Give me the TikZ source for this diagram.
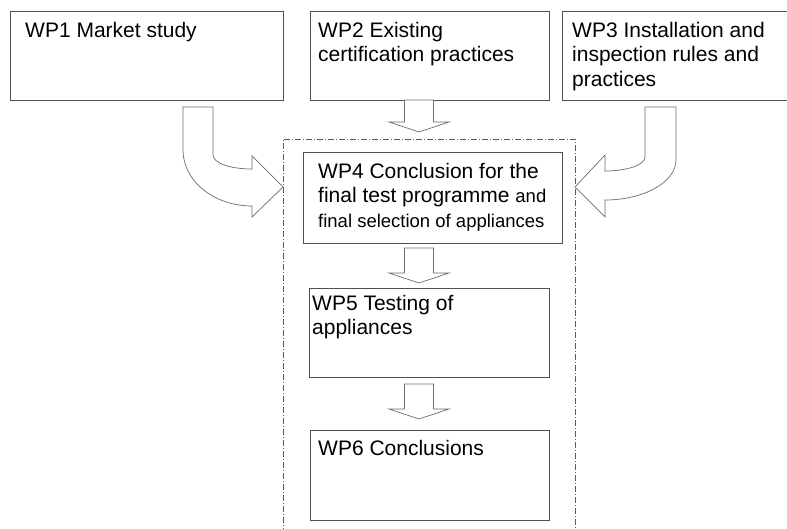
\documentclass[tikz,border=0pt]{standalone}
\usepackage{fontspec}
\setmainfont{Liberation Sans}
\usetikzlibrary{positioning}

\definecolor{boxgray}{HTML}{505050}
\definecolor{arrowgray}{HTML}{6E6E6E}
\definecolor{framegray}{HTML}{5A5A5A}
\newcommand\wpsmall{\fontsize{18.5}{24.5}\selectfont}

\tikzset{
  wpbox/.style={draw=boxgray, line width=1pt, anchor=north west, inner sep=0pt},
  wptext/.style={align=left, inner sep=0pt, font=\fontsize{21}{24.5}\selectfont},
  arrowline/.style={draw=arrowgray, line width=0.7pt, fill=white},
  frameline/.style={draw=framegray, line width=0.8pt, dash pattern=on 6pt off 2pt on 1pt off 2pt},
  pics/downblock/.style={code={
    \draw[arrowline] (-14.5,0) -- (-14.5,#1) -- (-30,#1) -- (0,#1+10) -- (30,#1) -- (14.5,#1) -- (14.5,0) -- cycle;
  }}
}

\begin{document}
\begin{tikzpicture}[x=1pt, y=-1pt]
    \clip (0,0) rectangle (787,529);
    \fill[white] (0,0) rectangle (787,529);

    % Frame round WP4 to WP6
    \draw[frameline] (283,545) -- (283,139) -- (575,139) -- (575,545);

    % Top row
    \node[wpbox, minimum width=273pt, minimum height=89pt] (wp1) at (10,11) {};
    \node[wpbox, minimum width=239pt, minimum height=89pt] (wp2) at (310,11) {};
    \node[wpbox, minimum width=240pt, minimum height=89pt] (wp3) at (562,11) {};
    \node[wptext, below right=11pt and 15pt of wp1.north west] (wp1text) {WP1 Market study};
    \node[wptext, below right=11pt and 8pt of wp2.north west] (wp2text) {WP2 Existing\\certification practices};
    \node[wptext, below right=11pt and 10pt of wp3.north west] (wp3text) {WP3 Installation and\\inspection rules and\\practices};

    % Inner column
    \node[wpbox, minimum width=259pt, minimum height=91pt] (wp4) at (303,152) {};
    \node[wpbox, minimum width=240pt, minimum height=89pt] (wp5) at (309,288) {};
    \node[wpbox, minimum width=239pt, minimum height=90pt] (wp6) at (310,430) {};
    \node[wptext, below right=11pt and 15pt of wp4.north west] (wp4text) {WP4 Conclusion for the\\final test programme {\wpsmall and}\\{\wpsmall final selection of appliances}};
    \node[wptext, below right=7pt and 3pt of wp5.north west] (wp5text) {WP5 Testing of\\appliances};
    \node[wptext, below right=10pt and 8pt of wp6.north west] (wp6text) {WP6 Conclusions};

    % Block arrows
    \pic at (419,100) {downblock=22};
    \pic at (419,248) {downblock=25};
    \pic at (419,384) {downblock=25};
    \draw[arrowline] (183,107) -- (213,107) -- (213,155) .. controls (213,163) and (230,169) .. (252,169)
        -- (252,156) -- (283,187) -- (252,217) -- (252,206) .. controls (214,206) and (183,181) .. (183,150) -- cycle;
    \draw[arrowline] (676,107) -- (645,107) -- (645,157) .. controls (645,165) and (627,171) .. (605,171)
        -- (605,155) -- (575,187) -- (605,217) -- (605,200) .. controls (644,200) and (676,182) .. (676,160) -- cycle;
\end{tikzpicture}
\end{document}
